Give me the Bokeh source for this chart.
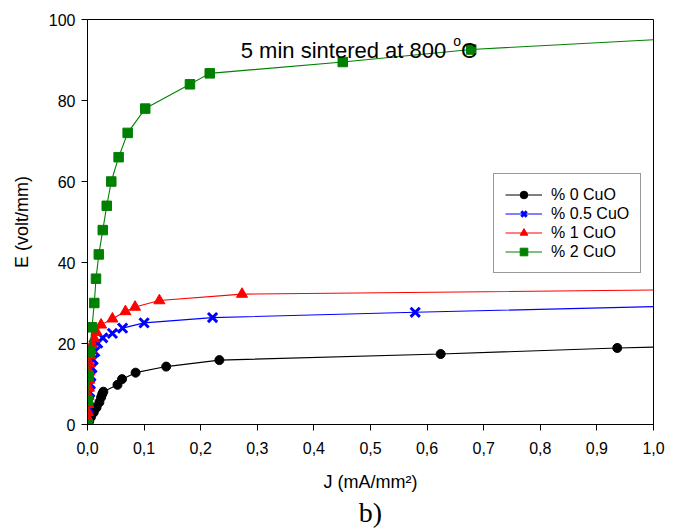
from bokeh.plotting import figure
from bokeh.models import (Range1d, FixedTicker, CustomJSTickFormatter, Label, Title, Legend)
from bokeh.embed import file_html
from bokeh.resources import INLINE

# ---- data ----
J_0 = [0.0, 0.003, 0.006, 0.011, 0.016, 0.021, 0.024, 0.026, 0.028, 0.053, 0.061, 0.085, 0.139, 0.233, 0.624, 0.936]
E_0 = [0.0, 0.8, 1.8, 3.0, 4.2, 5.5, 6.7, 7.5, 8.1, 9.8, 11.2, 12.8, 14.3, 15.9, 17.4, 18.9]

J_05 = [0.0, 0.001, 0.002, 0.003, 0.004, 0.005, 0.006, 0.008, 0.010, 0.013, 0.018, 0.027, 0.044, 0.062, 0.100, 0.221, 0.579]
E_05 = [0.0, 2.0, 4.0, 6.0, 8.0, 10.0, 12.0, 14.0, 16.0, 18.0, 20.1, 21.4, 22.5, 23.8, 25.1, 26.4, 27.7]

J_1 = [0.0, 0.0005, 0.001, 0.0015, 0.002, 0.0025, 0.003, 0.0035, 0.004, 0.005, 0.006, 0.008, 0.012, 0.016, 0.024, 0.044, 0.067, 0.084, 0.127, 0.273]
E_1 = [0.0, 1.5, 3.0, 5.0, 7.0, 9.0, 11.0, 13.0, 15.0, 17.0, 18.5, 19.8, 21.2, 22.8, 24.6, 26.1, 27.9, 29.0, 30.6, 32.2]

J_2 = [0.0, 0.0005, 0.002, 0.004, 0.008, 0.012, 0.015, 0.020, 0.027, 0.034, 0.042, 0.055, 0.071, 0.102, 0.181, 0.216, 0.451, 0.678]
E_2 = [0.0, 6.0, 12.0, 18.0, 24.0, 30.0, 36.0, 42.0, 48.0, 54.0, 60.0, 66.0, 72.0, 78.0, 84.0, 86.7, 89.5, 92.6]

# fitted curve continues to the right edge
J_end = 1.0
E_end = [19.1, 29.1, 33.2, 95.0]

labels = ["% 0 CuO", "% 0.5 CuO", "% 1 CuO", "% 2 CuO"]
x_ticks = [0.0, 0.1, 0.2, 0.3, 0.4, 0.5, 0.6, 0.7, 0.8, 0.9, 1.0]
y_ticks = [0, 20, 40, 60, 80, 100]

FONT = "Liberation Sans"

p = figure(width=665, height=530, output_backend="svg", toolbar_location=None,
           x_range=Range1d(0, 1), y_range=Range1d(0, 100),
           min_border_left=87, min_border_right=12, min_border_top=19, min_border_bottom=106)
p.grid.visible = False
p.outline_line_color = "black"
p.outline_line_width = 1
p.background_fill_color = "white"
p.border_fill_color = "white"

for ax in (p.xaxis[0], p.yaxis[0]):
    ax.axis_line_color = "black"
    ax.major_tick_line_color = "black"
    ax.major_tick_in = 0
    ax.major_tick_out = 6
    ax.minor_tick_line_color = None
    ax.major_label_text_font = FONT
    ax.major_label_text_font_size = "16px"
    ax.major_label_text_color = "black"
    ax.axis_label_text_font = FONT
    ax.axis_label_text_font_size = "18px"
    ax.axis_label_text_font_style = "normal"
    ax.axis_label_text_color = "black"

p.xaxis.ticker = FixedTicker(ticks=x_ticks)
p.yaxis.ticker = FixedTicker(ticks=y_ticks)
p.xaxis.formatter = CustomJSTickFormatter(code="return tick.toFixed(1).replace('.', ',');")
p.xaxis.major_label_standoff = 11
p.yaxis.major_label_standoff = 6
p.xaxis.axis_label = "J (mA/mm\u00b2)"
p.yaxis.axis_label = "E (volt/mm)"
p.xaxis.axis_label_standoff = 15
p.yaxis.axis_label_standoff = 14

series = [
    (J_0, E_0, E_end[0], "black", "circle", 9),
    (J_05, E_05, E_end[1], "blue", "x", 13),
    (J_1, E_1, E_end[2], "red", "triangle", 11),
    (J_2, E_2, E_end[3], "green", "square", 9.5),
]
items = []
for (jx, ey, eend, col, mk, sz), lab in zip(series, labels):
    lr = p.line(jx + [J_end], ey + [eend], line_color=col, line_width=1.1)
    if mk == "x":
        mr = p.scatter(jx, ey, marker="x", size=sz, line_color=col, line_width=3)
    else:
        mr = p.scatter(jx, ey, marker=mk, size=sz, fill_color=col, line_color=col, line_width=1)
    items.append((lab, [lr, mr]))

legend = Legend(items=items, location=(406, 151))
legend.label_text_font = FONT
legend.label_text_font_size = "16px"
legend.label_text_color = "black"
legend.border_line_color = "#333333"
legend.border_line_width = 1
legend.background_fill_color = "white"
legend.background_fill_alpha = 1
legend.padding = 11
legend.spacing = 0
legend.label_height = 19
legend.glyph_height = 19
legend.glyph_width = 37
legend.label_standoff = 9
legend.margin = 0
p.add_layout(legend, "center")

# annotation text
p.add_layout(Label(x=0.2708, y=92.3, text="5 min sintered at 800", text_font=FONT,
                   text_font_size="22px", text_baseline="alphabetic", text_color="black"))
p.add_layout(Label(x=0.646, y=94.8, text="o", text_font=FONT,
                   text_font_size="14px", text_baseline="alphabetic", text_color="black"))
p.add_layout(Label(x=0.660, y=92.3, text="C", text_font=FONT,
                   text_font_size="22px", text_baseline="alphabetic", text_color="black"))

p.add_layout(Title(text="b)", align="center", text_font="Liberation Serif",
                   text_font_size="28px", text_font_style="normal", text_color="black",
                   standoff=0, offset=0), "below")

open("out.html", "w").write(file_html(p, INLINE))
